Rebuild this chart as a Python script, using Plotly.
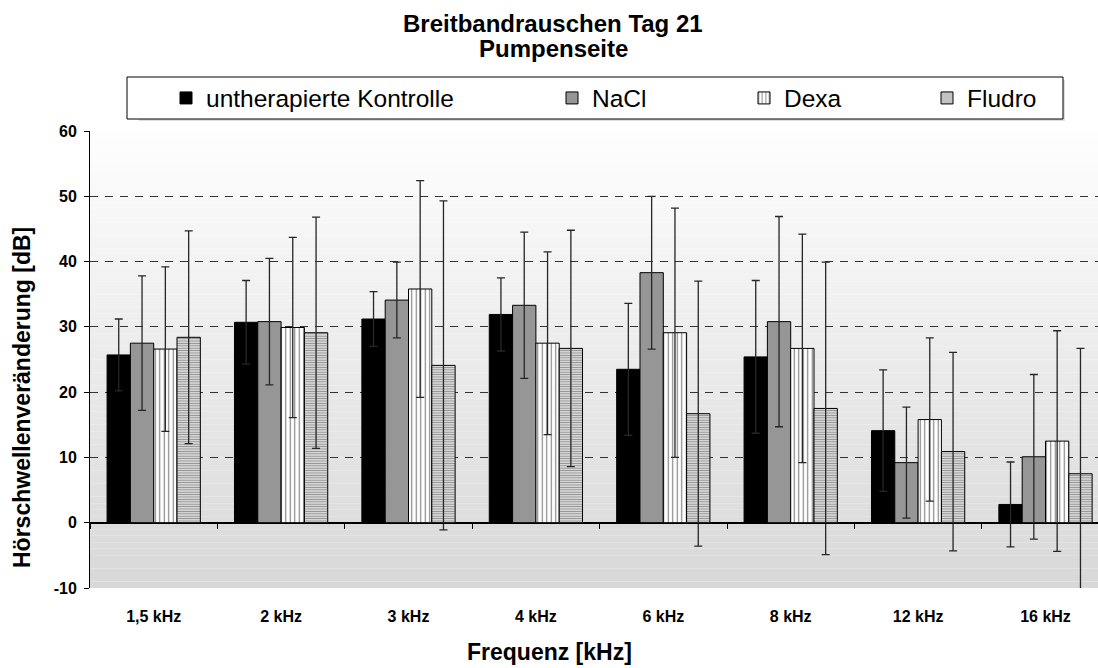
import plotly.graph_objects as go

# Frequency groups (category axis)
frequencies = ["1,5 kHz", "2 kHz", "3 kHz", "4 kHz", "6 kHz", "8 kHz", "12 kHz", "16 kHz"]

# Mean hearing-threshold shift [dB] and standard deviation per group
kontrolle = [25.7, 30.7, 31.2, 31.9, 23.5, 25.4, 14.1, 2.8]
kontrolle_sd = [5.5, 6.4, 4.2, 5.6, 10.1, 11.7, 9.3, 6.5]

nacl = [27.5, 30.8, 34.1, 33.3, 38.3, 30.8, 9.2, 10.1]
nacl_sd = [10.3, 9.7, 5.8, 11.2, 11.7, 16.1, 8.5, 12.6]

dexa = [26.6, 29.9, 35.8, 27.5, 29.1, 26.7, 15.8, 12.5]
dexa_sd = [12.6, 13.8, 16.6, 14.0, 19.1, 17.5, 12.5, 16.9]

fludro = [28.4, 29.1, 24.1, 26.7, 16.7, 17.5, 10.9, 7.5]
fludro_sd = [16.3, 17.7, 25.2, 18.1, 20.3, 22.4, 15.2, 19.2]

y_ticks = [-10, 0, 10, 20, 30, 40, 50, 60]
y_tick_labels = ["-10", "0", "10", "20", "30", "40", "50", "60"]

W, H = 1098, 668
M_L, M_R, M_T, M_B = 90, 0, 131, 80
PLOT_W = W - M_L - M_R
PLOT_H = H - M_T - M_B
Y_MIN, Y_MAX = -10, 60
GROUP_PX = 127.4


def px_x(px):
    return (px - M_L) / PLOT_W


def px_y(py):
    return (H - M_B - py) / PLOT_H


FONT = "Arial, Liberation Sans, sans-serif"
err_style = dict(type="data", visible=True, color="#262626", thickness=1.3, width=4)

fig = go.Figure()

series = [
    ("untherapierte Kontrolle", kontrolle, kontrolle_sd,
     dict(color="black", line=dict(color="black", width=1)), "legend"),
    ("NaCl", nacl, nacl_sd,
     dict(color="#969696", line=dict(color="black", width=1)), "legend2"),
    ("Dexa", dexa, dexa_sd,
     dict(color="white", line=dict(color="black", width=1),
          pattern=dict(shape="|", fgcolor="black", bgcolor="white", size=4.5, solidity=0.25)),
     "legend3"),
    ("Fludro", fludro, fludro_sd,
     dict(color="white", line=dict(color="black", width=1),
          pattern=dict(shape="-", fgcolor="#2a2a2a", bgcolor="#f6f6f6", size=2.4, solidity=0.55)),
     "legend4"),
]

for name, vals, sd, marker, leg in series:
    fig.add_trace(go.Bar(
        x=frequencies, y=vals, name=name, marker=marker,
        error_y=dict(array=sd, **err_style),
        legend=leg,
    ))

# Vertical gradient background of the plotting area
n_bands = 70
top_c, bot_c = 254, 216
for i in range(n_bands):
    y0 = Y_MIN + (Y_MAX - Y_MIN) * i / n_bands
    y1 = Y_MIN + (Y_MAX - Y_MIN) * (i + 1) / n_bands
    t = (i + 0.5) / n_bands
    c = round(bot_c + (top_c - bot_c) * t)
    fig.add_shape(type="rect", xref="x domain", yref="y", x0=0, x1=1, y0=y0, y1=y1,
                  fillcolor=f"rgb({c},{c},{c})", line=dict(width=0), layer="below")

# Legend frame with a faint shadow underneath
lg_x0, lg_x1, lg_y0, lg_y1 = 127, 1063, 77, 119
fig.add_shape(type="rect", xref="paper", yref="paper",
              x0=px_x(lg_x0 + 12), x1=px_x(lg_x1 + 2), y0=px_y(lg_y1 + 2), y1=px_y(lg_y0 + 3),
              fillcolor="#dedede", line=dict(width=0), layer="above")
fig.add_shape(type="rect", xref="paper", yref="paper",
              x0=px_x(lg_x0), x1=px_x(lg_x1), y0=px_y(lg_y1), y1=px_y(lg_y0),
              fillcolor="white", line=dict(color="black", width=1), layer="above")

legend_common = dict(orientation="h", yanchor="middle", xanchor="left",
                     bgcolor="rgba(0,0,0,0)", borderwidth=0,
                     font=dict(family=FONT, size=24.5, color="black"),
                     itemclick=False, itemdoubleclick=False)
leg_y = px_y(98)
# left edge of each legend entry's label text
text_left = {"legend": 205, "legend2": 591, "legend3": 783, "legend4": 966}
legends = {k: dict(x=px_x(v - 39), y=leg_y, **legend_common) for k, v in text_left.items()}

# Titles as annotations
annotations = [
    dict(text="<b>Breitbandrauschen Tag 21</b>", x=px_x(553), y=px_y(23), xref="paper", yref="paper",
         showarrow=False, xanchor="center", yanchor="middle",
         font=dict(family=FONT, size=24, color="black")),
    dict(text="<b>Pumpenseite</b>", x=px_x(553), y=px_y(48), xref="paper", yref="paper",
         showarrow=False, xanchor="center", yanchor="middle",
         font=dict(family=FONT, size=24, color="black")),
    dict(text="<b>Frequenz [kHz]</b>", x=px_x(549), y=px_y(652), xref="paper", yref="paper",
         showarrow=False, xanchor="center", yanchor="middle",
         font=dict(family=FONT, size=23, color="black")),
    dict(text="<b>Hörschwellenveränderung [dB]</b>", x=px_x(22), y=px_y(398), xref="paper", yref="paper",
         showarrow=False, xanchor="center", yanchor="middle", textangle=-90,
         font=dict(family=FONT, size=23, color="black")),
]

n_vis = PLOT_W / GROUP_PX
fig.update_layout(
    width=W, height=H,
    margin=dict(l=M_L, r=M_R, t=M_T, b=M_B, autoexpand=False),
    paper_bgcolor="white", plot_bgcolor="white",
    barmode="group", bargap=0.268, bargroupgap=0,
    showlegend=True,
    annotations=annotations,
    **legends,
    xaxis=dict(
        type="category", range=[-0.5, -0.5 + n_vis],
        anchor="free", position=(0 - Y_MIN) / (Y_MAX - Y_MIN),
        showline=True, linecolor="black", linewidth=1,
        ticks="outside", ticklen=5, tickcolor="black", tickson="boundaries",
        showgrid=False, zeroline=False,
        ticklabelstandoff=79,
        tickfont=dict(family=FONT, size=16, color="black", weight="bold"),
    ),
    yaxis=dict(
        range=[Y_MIN, Y_MAX], tickvals=y_ticks, ticktext=y_tick_labels,
        showline=True, linecolor="black", linewidth=1,
        ticks="outside", ticklen=5, tickcolor="black",
        ticklabelstandoff=4,
        showgrid=True, gridcolor="#333333", gridwidth=1, griddash="8px,7px",
        zeroline=True, zerolinecolor="black", zerolinewidth=1,
        tickfont=dict(family=FONT, size=16, color="black", weight="bold"),
    ),
)

fig.write_html("out.html")
